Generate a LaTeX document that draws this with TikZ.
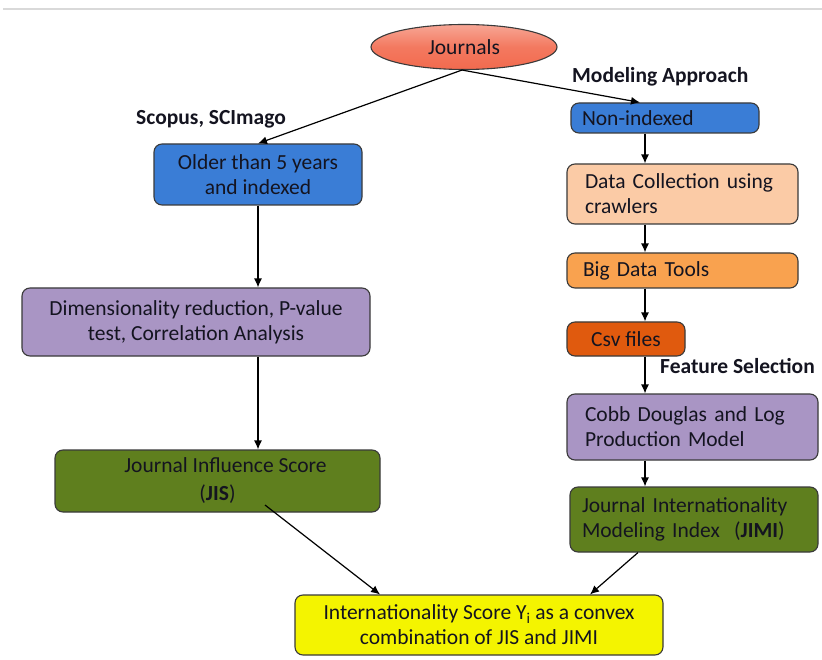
\documentclass[tikz,border=0pt]{standalone}
\usepackage{fontspec}
\setmainfont{Carlito}
\usetikzlibrary{shapes.geometric,arrows.meta,calc}
\definecolor{txt}{HTML}{141420}
\definecolor{bord}{HTML}{3A3A3A}
\definecolor{cblue}{HTML}{3A7DD6}
\definecolor{cpeach}{HTML}{FBCBA6}
\definecolor{corange}{HTML}{F9A24F}
\definecolor{ccsv}{HTML}{E05A0E}
\definecolor{clav}{HTML}{A995C4}
\definecolor{cgreen}{HTML}{5F7F1E}
\definecolor{cyellow}{HTML}{F4F400}
\definecolor{cred}{HTML}{F26A4E}
\begin{document}
\begin{tikzpicture}[x=1pt,y=-1pt,
  box/.style={draw=bord,line width=1.1pt,rounded corners=8pt,font=\fontsize{21.5}{25}\selectfont,text=txt,inner sep=0pt},
  cbox/.style={box,align=center},
  lbox/.style={box,align=left},
  lab/.style={font=\fontsize{21.5}{24}\selectfont\bfseries,text=txt,inner sep=0pt},
  arr/.style={-{Latex[length=9pt,width=8pt]},line width=1.2pt,draw=black}]
\useasboundingbox (0,0) rectangle (822,660);
\fill[white] (0,0) rectangle (822,660);
\draw[line width=1.5pt,draw=black!15] (3,9) -- (822,9);

\node[ellipse,draw=bord,line width=1.1pt,top color=cred!60!white,bottom color=cred,middle color=cred!90!white,minimum width=186pt,minimum height=45pt,inner sep=0pt,font=\fontsize{21.5}{25}\selectfont,text=txt] (journals) at (464,47) {Journals};

\node[lab,anchor=west] (modlab) at (572,77) {Modeling Approach};
\node[lab,anchor=west] (scolab) at (136,119) {Scopus, SCImago};
\node[lab,anchor=west] (feat) at (660,366) {Feature Selection};

\node[lbox,fill=cblue,minimum width=188pt,minimum height=30pt,text width=166pt] (nonidx) at (665,118) {Non-indexed};
\node[cbox,fill=cblue,minimum width=208pt,minimum height=61pt] (older) at (258,174.5) {Older than 5 years\\and indexed};
\node[lbox,fill=cpeach,minimum width=231pt,minimum height=60pt,text width=195pt] (data) at (682.5,194) {Data Collection using\\crawlers};
\node[lbox,fill=corange,minimum width=231pt,minimum height=35pt,text width=199pt] (big) at (682.5,270.5) {Big Data Tools};
\node[cbox,fill=ccsv,minimum width=118pt,minimum height=34pt] (csv) at (626,339) {Csv files};
\node[lbox,fill=clav,minimum width=251pt,minimum height=66pt,text width=215pt] (cobb) at (692.5,427) {Cobb Douglas and Log\\Production Model};
\node[cbox,fill=clav,minimum width=348pt,minimum height=68pt] (dim) at (196,322) {Dimensionality reduction, P-value\\test, Correlation Analysis};
\node[cbox,fill=cgreen,minimum width=325pt,minimum height=62pt,font=\fontsize{21.5}{28}\selectfont] (jis) at (217.5,481) {\hspace*{16pt}Journal Influence Score\\(\textbf{JIS})};
\node[lbox,fill=cgreen,minimum width=248pt,minimum height=65pt,text width=224pt] (jimi) at (694,519.5) {Journal Internationality\\Modeling Index\ \ (\textbf{JIMI})};
\node[cbox,fill=cyellow,minimum width=368pt,minimum height=60pt] (yel) at (479,625) {Internationality Score Y\textsubscript{i} as a convex\\combination of JIS and JIMI};

\coordinate (rc) at (645,0);
\coordinate (lc) at (258,0);
\coordinate (jisstart) at (265,505);
\coordinate (yelA) at (380,0);
\coordinate (jimiS) at (638,0);
\coordinate (yelB) at (590,0);

\draw[arr] ($(journals.south)+(-2,0)$) -- (older.north);
\draw[arr] ($(journals.south)+(-2,0)$) -- (nonidx.north -| 640,0);
\draw[arr] (nonidx.south -| rc) -- (data.north -| rc);
\draw[arr] (data.south -| rc) -- (big.north -| rc);
\draw[arr] (big.south -| rc) -- (csv.north -| rc);
\draw[arr] (csv.south -| rc) -- (cobb.north -| rc);
\draw[arr] (cobb.south -| rc) -- (jimi.north -| rc);
\draw[arr] (older.south) -- (dim.north -| lc);
\draw[arr] (dim.south -| lc) -- (jis.north -| lc);
\draw[arr] (jisstart) -- (yel.north -| yelA);
\draw[arr] (jimi.south -| jimiS) -- (yel.north -| yelB);
\end{tikzpicture}
\end{document}
